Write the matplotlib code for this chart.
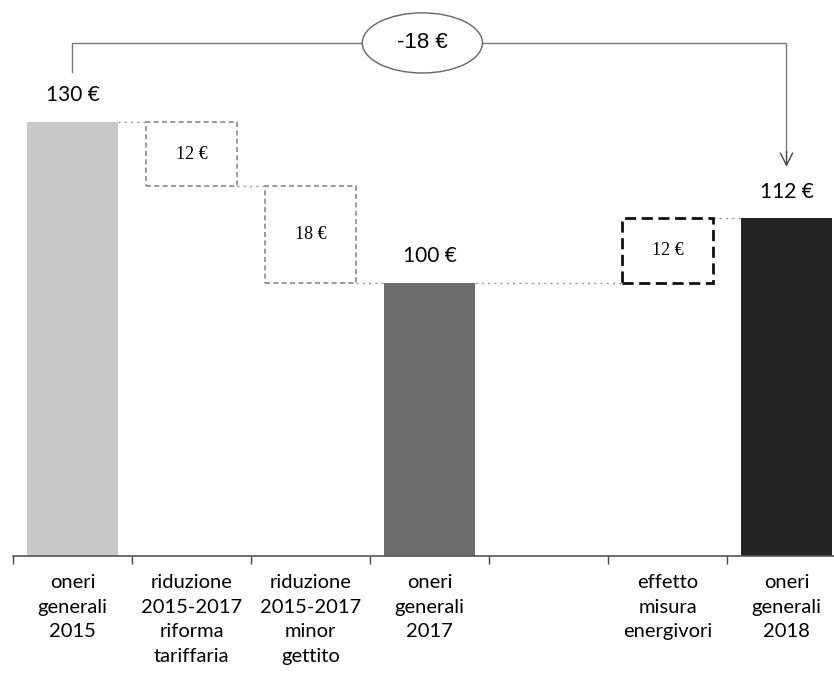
import matplotlib
matplotlib.use("Agg")
import matplotlib.pyplot as plt
from matplotlib.patches import Ellipse

# ---- data ----
categories = ["oneri\ngenerali\n2015",
              "riduzione\n2015-2017\nriforma\ntariffaria",
              "riduzione\n2015-2017\nminor\ngettito",
              "oneri\ngenerali\n2017",
              "",
              "effetto\nmisura\nenergivori",
              "oneri\ngenerali\n2018"]
total_pos = [0, 3, 6]
total_values = [130, 100, 112]
total_labels = ["130 €", "100 €", "112 €"]
step_pos = [1, 2, 5]
step_values = [-12, -18, 12]
step_labels = ["12 €", "18 €", "12 €"]
diff_label = "-18 €"

FONT = ["Lato", "DejaVu Sans"]

fig = plt.figure(figsize=(8.34, 6.75), dpi=100)
ax = fig.add_axes([13 / 834, 119 / 675, 833 / 834, 556 / 675])
ax.set_xlim(-0.5, 6.5)
ax.set_ylim(49.1, 152.7)

W = 0.77
total_colors = ["#c8c8c8", "#6c6c6c", "#242424"]
ax.bar(total_pos, total_values, width=W, color=total_colors, zorder=2)
for x, v, lab in zip(total_pos, total_values, total_labels):
    ax.annotate(lab, (x, v), xytext=(0, 12), textcoords="offset points",
                ha="center", va="bottom", fontsize=15, family=FONT)

# steps (floating dashed boxes)
level = total_values[0]
for x, d, lab in zip(step_pos, step_values, step_labels):
    lo, hi = (level + d, level) if d < 0 else (level, level + d)
    if d < 0:
        ec, lw, ls = "#8a8a8a", 1.2, (0, (3, 2))
    else:
        ec, lw, ls = "#111111", 2.0, (0, (4, 2))
    ax.bar(x, hi - lo, bottom=lo, width=W, facecolor="none", edgecolor=ec,
           linewidth=lw, linestyle=ls, zorder=3)
    ax.text(x, (lo + hi) / 2, lab, ha="center", va="center", fontsize=13,
            family=["Liberation Serif", "DejaVu Serif"], zorder=4)
    level = level + d

# connector dotted lines
conn = [(total_pos[0] + W / 2, step_pos[0] - W / 2, total_values[0]),
        (step_pos[0] + W / 2, step_pos[1] - W / 2, total_values[0] + step_values[0]),
        (step_pos[1] + W / 2, total_pos[1] - W / 2, total_values[1]),
        (total_pos[1] + W / 2, step_pos[2] - W / 2, total_values[1]),
        (step_pos[2] + W / 2, total_pos[2] - W / 2, total_values[2])]
for x0, x1, y in conn:
    ax.plot([x0, x1], [y, y], color="#999999", lw=1, ls=(0, (1.5, 3)), zorder=1)

# bracket with ellipse and arrow
ytop = 144.7
ex, ew, eh = 2.94, 1.01, 11.2
ax.plot([0, 0, ex - ew / 2], [139.3, ytop, ytop], color="#777777", lw=1)
ax.plot([ex + ew / 2, 6, 6], [ytop, ytop, 124.5], color="#777777", lw=1)
ax.annotate("", xy=(6, 121.1), xytext=(6, 125),
            arrowprops=dict(arrowstyle="->", color="#444444", lw=1,
                            mutation_scale=22))
ax.add_patch(Ellipse((ex, ytop), ew, eh, facecolor="white", edgecolor="#666666",
                     lw=1, zorder=5))
ax.text(ex, ytop, diff_label, ha="center", va="center", fontsize=16,
        family=["Liberation Sans", "DejaVu Sans"], zorder=6)

# axes styling
for s in ["top", "right", "left"]:
    ax.spines[s].set_visible(False)
ax.spines["bottom"].set_color("#555555")
ax.spines["bottom"].set_linewidth(1.2)
ax.set_yticks([])
ax.set_xticks(range(len(categories)))
ax.set_xticklabels(categories, fontsize=14.5, family=FONT, linespacing=1.55)
ax.tick_params(axis="x", which="major", length=0, pad=13)
ax.set_xticks([i - 0.5 for i in range(len(categories) + 1)], minor=True)
ax.tick_params(axis="x", which="minor", length=6, width=1, color="#444444",
               direction="out")

fig.savefig("out.png", dpi=100)
